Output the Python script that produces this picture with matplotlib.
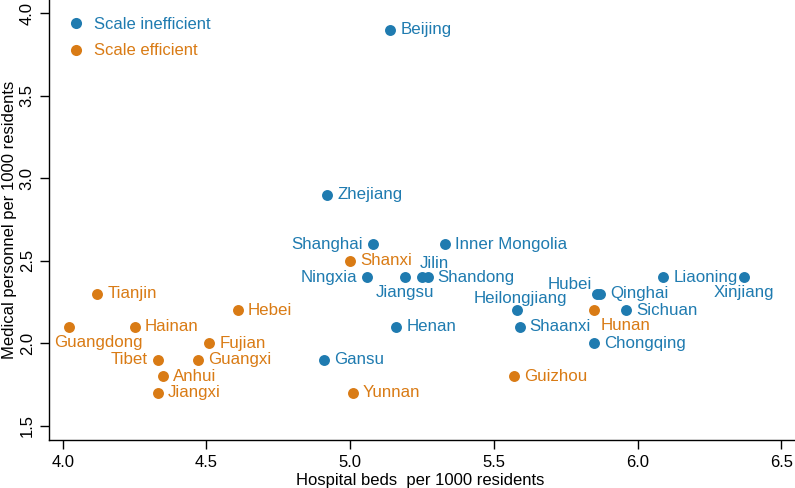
import matplotlib
matplotlib.use("Agg")
import matplotlib.pyplot as plt
from matplotlib.lines import Line2D

plt.rcParams['font.family'] = ['Liberation Sans', 'DejaVu Sans']

# ---- data ----
ineff_names = ["Beijing", "Zhejiang", "Shanghai", "Inner Mongolia", "Ningxia", "Jiangsu",
               "Jilin", "Shandong", "Heilongjiang", "Henan", "Shaanxi", "Hubei", "Qinghai",
               "Liaoning", "Xinjiang", "Sichuan", "Chongqing", "Gansu"]
ineff_beds = [5.14, 4.92, 5.08, 5.33, 5.06, 5.19, 5.25, 5.27, 5.58, 5.16, 5.59, 5.86, 5.87,
              6.09, 6.37, 5.96, 5.85, 4.91]
ineff_staff = [3.9, 2.9, 2.6, 2.6, 2.4, 2.4, 2.4, 2.4, 2.2, 2.1, 2.1, 2.3, 2.3,
               2.4, 2.4, 2.2, 2.0, 1.9]

eff_names = ["Shanxi", "Tianjin", "Guangdong", "Hainan", "Hebei", "Fujian", "Tibet",
             "Guangxi", "Anhui", "Jiangxi", "Yunnan", "Guizhou", "Hunan"]
eff_beds = [5.00, 4.12, 4.02, 4.25, 4.61, 4.51, 4.33, 4.47, 4.35, 4.33, 5.01, 5.57, 5.85]
eff_staff = [2.5, 2.3, 2.1, 2.1, 2.2, 2.0, 1.9, 1.9, 1.8, 1.7, 1.7, 1.8, 2.2]

x_ticks = [4.0, 4.5, 5.0, 5.5, 6.0, 6.5]
y_ticks = [1.5, 2.0, 2.5, 3.0, 3.5, 4.0]
legend_labels = ["Scale inefficient", "Scale efficient"]

# ---- label placement (pixel offsets, alignment) ----
place = {
    "Shanghai": (-10, 0, "right", "center"),
    "Ningxia": (-10, 0, "right", "center"),
    "Tibet": (-10, 0, "right", "center"),
    "Jiangsu": (0, -15, "center", "center"),
    "Xinjiang": (0, -15, "center", "center"),
    "Jilin": (-2, 14, "left", "center"),
    "Heilongjiang": (4, 12, "center", "center"),
    "Hubei": (-5, 9, "right", "center"),
    "Hunan": (6, -15, "left", "center"),
    "Guangdong": (-14, -16, "left", "center"),
}
default_place = (10, 0, "left", "center")

blue = "#1f7bb0"
orange = "#d97b15"

fig = plt.figure(figsize=(7.95, 4.88), dpi=100)
ax = fig.add_axes([49.3 / 795, 48 / 488, 1 - 49.3 / 795, 1 - 48 / 488])

ax.scatter(ineff_beds, ineff_staff, s=62, color=blue, zorder=3, linewidths=0)
ax.scatter(eff_beds, eff_staff, s=62, color=orange, zorder=3, linewidths=0)

for names, xs, ys, col in [(ineff_names, ineff_beds, ineff_staff, blue),
                           (eff_names, eff_beds, eff_staff, orange)]:
    for n, xv, yv in zip(names, xs, ys):
        dx, dy, ha, va = place.get(n, default_place)
        ax.annotate(n, (xv, yv), xytext=(dx, dy), textcoords="offset pixels",
                    ha=ha, va=va, color=col, fontsize=12.2)

ax.set_xlim(3.953, 6.548)
ax.set_ylim(1.413, 4.081)
ax.set_xticks(x_ticks)
ax.set_yticks(y_ticks)
ax.set_xticklabels([f"{v:.1f}" for v in x_ticks], fontsize=12)
ax.set_yticklabels([f"{v:.1f}" for v in y_ticks], fontsize=12, rotation=90, va="center")
ax.tick_params(direction="out", length=6.5, width=1, pad=4)
for s in ["top", "right"]:
    ax.spines[s].set_visible(False)
for s in ["left", "bottom"]:
    ax.spines[s].set_linewidth(1)

ax.set_xlabel("Hospital beds  per 1000 residents", fontsize=12)
ax.set_ylabel("Medical personnel per 1000 residents", fontsize=12, va="center")
ax.xaxis.set_label_coords(0.497, -0.075)
ax.yaxis.set_label_coords((10 - 49.3) / 745.7, 0.5)

handles = [Line2D([], [], marker="o", linestyle="none", markersize=8, color=blue, markeredgewidth=0),
           Line2D([], [], marker="o", linestyle="none", markersize=8, color=orange, markeredgewidth=0)]
leg = ax.legend(handles, legend_labels, loc="upper left", bbox_to_anchor=(0.024, 0.962),
                frameon=False, fontsize=12, handlelength=1.0, handletextpad=0.6,
                labelspacing=0.7, borderaxespad=0, borderpad=0)
for t, c in zip(leg.get_texts(), [blue, orange]):
    t.set_color(c)

fig.savefig("out.png", dpi=100)
